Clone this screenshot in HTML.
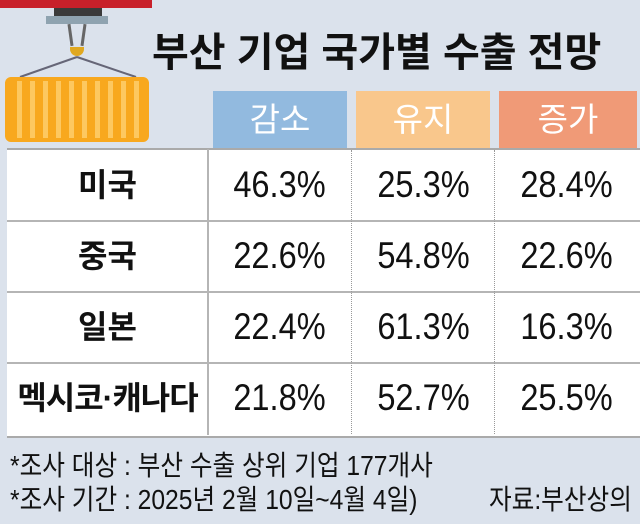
<!DOCTYPE html>
<html><head><meta charset="utf-8"><style>
body{margin:0;width:640px;height:524px;background:#dbe2ec;position:relative;overflow:hidden;font-family:"Liberation Sans","Noto Sans CJK KR",sans-serif}
.a{position:absolute}
.t{position:absolute;white-space:nowrap}
.h{position:absolute;top:91px;height:57px;color:#fff;font-size:33px;text-align:center;line-height:57px}
.lab{position:absolute;left:7px;width:201px;text-align:center;font-weight:bold;font-size:32px;color:#111;line-height:40px}
.v{position:absolute;width:143px;text-align:center;font-size:37px;color:#111;transform:scaleX(0.88);line-height:40px}
</style></head><body>
<div class="a" style="left:0;top:0;width:152px;height:8px;background:#c8202a"></div>
<div class="a" style="left:54px;top:8px;width:48px;height:8px;background:#3a3a3a"></div>
<div class="a" style="left:46px;top:16px;width:62px;height:8px;background:#8fa3b0"></div>
<div class="a" style="left:69px;top:24px;width:3px;height:22px;background:#666;transform:rotate(-8deg)"></div>
<div class="a" style="left:82px;top:24px;width:3px;height:22px;background:#666;transform:rotate(8deg)"></div>
<div class="a" style="left:70px;top:47px;width:14px;height:9px;background:#e0a820;border-radius:0 0 7px 7px"></div>
<svg class="a" style="left:0;top:0" width="150" height="80"><line x1="77" y1="57" x2="20" y2="77" stroke="#667" stroke-width="2"/><line x1="77" y1="57" x2="136" y2="77" stroke="#667" stroke-width="2"/></svg>
<div class="a" style="left:5px;top:77px;width:144px;height:65px;background:#f8a81e;border-radius:6px;background-image:repeating-linear-gradient(90deg,#f8a81e 0 8px,#fdc860 8px 13px);background-position:4px 0;box-shadow:inset 0 0 0 4px #f8a81e"></div>
<div class="t" style="left:152px;top:20px;font-size:40px;font-weight:bold;color:#111">부산 기업 국가별 수출 전망</div>
<div class="h" style="left:213px;width:134px;background:#92badf">감소</div>
<div class="h" style="left:356px;width:134px;background:#f9c78c">유지</div>
<div class="h" style="left:499px;width:138px;background:#f09a77">증가</div>
<div class="a" style="left:7px;top:148px;width:633px;height:286px;background:#fff;border-top:2px solid #aaa;border-bottom:2px solid #aaa"></div>
<div class="a" style="left:7px;top:220px;width:633px;height:2px;background:#b5b5b5"></div>
<div class="a" style="left:7px;top:291px;width:633px;height:2px;background:#b5b5b5"></div>
<div class="a" style="left:7px;top:362px;width:633px;height:2px;background:#b5b5b5"></div>
<div class="a" style="left:207px;top:149px;width:2px;height:286px;background:#b5b5b5"></div>
<div class="a" style="left:351px;top:150px;height:284px;border-left:1px dotted #999"></div>
<div class="a" style="left:494px;top:150px;height:284px;border-left:1px dotted #999"></div>
<div class="lab" style="top:165px">미국</div>
<div class="lab" style="top:236px">중국</div>
<div class="lab" style="top:307px">일본</div>
<div class="lab" style="top:378px;left:6px;width:203px;letter-spacing:-1px">멕시코·캐나다</div>
<div class="v" style="left:208px;top:165px">46.3%</div><div class="v" style="left:352px;top:165px">25.3%</div><div class="v" style="left:495px;top:165px">28.4%</div>
<div class="v" style="left:208px;top:236px">22.6%</div><div class="v" style="left:352px;top:236px">54.8%</div><div class="v" style="left:495px;top:236px">22.6%</div>
<div class="v" style="left:208px;top:307px">22.4%</div><div class="v" style="left:352px;top:307px">61.3%</div><div class="v" style="left:495px;top:307px">16.3%</div>
<div class="v" style="left:208px;top:378px">21.8%</div><div class="v" style="left:352px;top:378px">52.7%</div><div class="v" style="left:495px;top:378px">25.5%</div>
<div class="t" style="left:10px;top:444px;font-size:28px;color:#111;transform:scaleX(0.88);transform-origin:left">*조사 대상 : 부산 수출 상위 기업 177개사</div>
<div class="t" style="left:10px;top:478px;font-size:28px;color:#111;transform:scaleX(0.88);transform-origin:left">*조사 기간 : 2025년 2월 10일~4월 4일)</div>
<div class="t" style="left:489px;top:478px;font-size:28px;color:#111;transform:scaleX(0.88);transform-origin:left">자료:부산상의</div>
</body></html>
